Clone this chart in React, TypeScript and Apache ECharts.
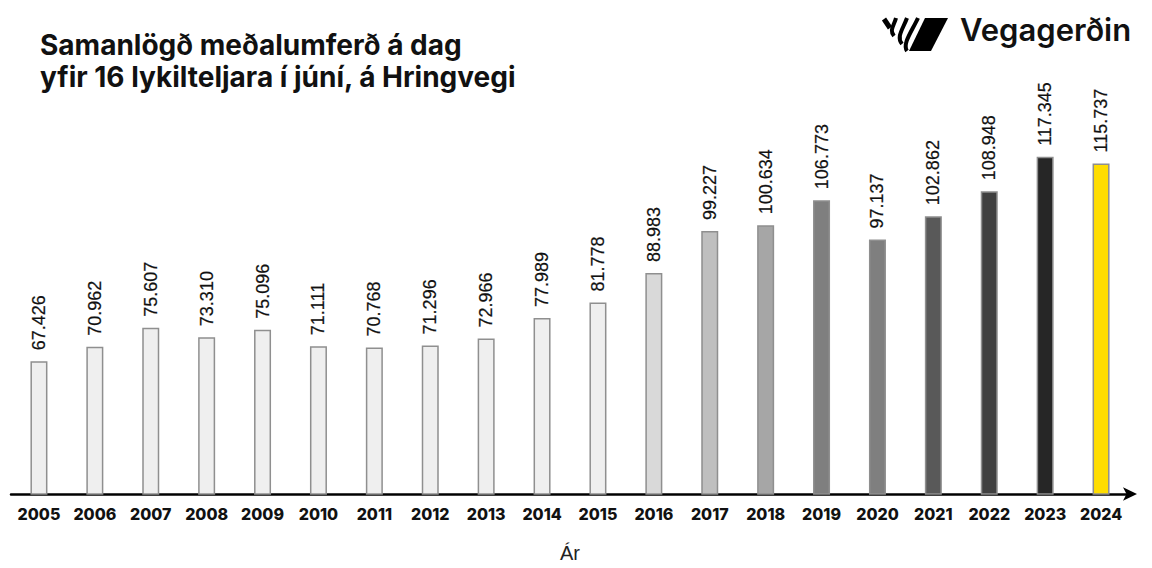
import React, { useEffect, useRef } from "react";
import * as echarts from "echarts";

const years = ["2005","2006","2007","2008","2009","2010","2011","2012","2013","2014","2015","2016","2017","2018","2019","2020","2021","2022","2023","2024"];
const traffic = [67426,70962,75607,73310,75096,71111,70768,71296,72966,77989,81778,88983,99227,100634,106773,97137,102862,108948,117345,115737];
const barColors = ["#efefef","#efefef","#efefef","#efefef","#efefef","#efefef","#efefef","#efefef","#efefef","#efefef","#efefef","#d9d9d9","#bfbfbf","#a6a6a6","#7f7f7f","#7f7f7f","#595959","#404040","#262626","#ffdd00"];
const titleLines = ["Samanlögð meðalumferð á dag", "yfir 16 lykilteljara í júní, á Hringvegi"];
const axisName = "Ár";
const brand = "Vegagerðin";

const fmt = (v: number) => String(v).replace(/\B(?=(\d{3})+(?!\d))/g, ".");

export default function App() {
  const ref = useRef<HTMLDivElement>(null);
  useEffect(() => {
    if (!ref.current) return;
    document.body.style.margin = "0";
    const chart = echarts.init(ref.current, undefined, { renderer: "svg" });
    const stripe = (x1: number, y1: number, c1x: number, c1y: number, c2x: number, c2y: number, x2: number, y2: number, w: number) => ({
      type: "bezierCurve",
      shape: { x1, y1, cpx1: c1x, cpy1: c1y, cpx2: c2x, cpy2: c2y, x2, y2 },
      style: { stroke: "#000", lineWidth: w, fill: "none" },
    });
    chart.setOption({
      animation: false,
      backgroundColor: "#ffffff",
      title: {
        text: titleLines.join("\n"),
        left: 35,
        top: 24,
        textStyle: { fontFamily: "Inter", fontWeight: "bold", fontSize: 28, lineHeight: 32, color: "#111" },
      },
      grid: { left: 11, width: 1118, top: 146, height: 348 },
      xAxis: {
        type: "category",
        data: years,
        name: axisName,
        nameLocation: "middle",
        nameGap: 49,
        nameTextStyle: { fontFamily: "Liberation Sans", fontSize: 20, color: "#222" },
        axisLine: { show: true, lineStyle: { color: "#000", width: 2.5 }, symbol: ["none", "arrow"], symbolSize: [10, 14], symbolOffset: [0, 8] },
        axisTick: { show: false },
        axisLabel: { fontFamily: "Inter", fontWeight: 800, fontSize: 16, color: "#111", margin: 12 },
      },
      yAxis: { type: "value", min: 35000, max: 120000, show: false, splitLine: { show: false } },
      series: [{
        type: "bar",
        barWidth: 17,
        data: traffic.map((v, i) => ({ value: v, itemStyle: { color: barColors[i] } })),
        itemStyle: { borderColor: "#8f8f8f", borderWidth: 1.5 },
        label: {
          show: true,
          position: "top",
          rotate: 90,
          align: "left",
          verticalAlign: "middle",
          distance: 11,
          formatter: (p: any) => fmt(p.value),
          fontFamily: "Liberation Sans",
          fontSize: 18,
          color: "#111",
          textBorderColor: "#111",
          textBorderWidth: 0.2,
        },
      }],
      graphic: [
        { type: "polygon", shape: { points: [[925, 18], [948, 18], [931, 51], [909, 51]] }, style: { fill: "#000" } },
        stripe(884, 19, 886, 22, 888, 25, 890, 28, 5),
        stripe(896, 18, 894, 26, 889, 30, 894, 36, 4),
        stripe(907, 18, 903, 29, 896, 37, 902, 44, 4),
        stripe(918, 18, 912, 31, 902, 44, 907, 51, 4),
        {
          type: "text",
          left: 960,
          top: 14,
          style: { text: brand, fontFamily: "Inter", fontWeight: 600, fontSize: 31, fill: "#111" },
        },
      ],
    });
    return () => chart.dispose();
  }, []);
  return <div ref={ref} style={{ width: 1152, height: 568 }} />;
}
